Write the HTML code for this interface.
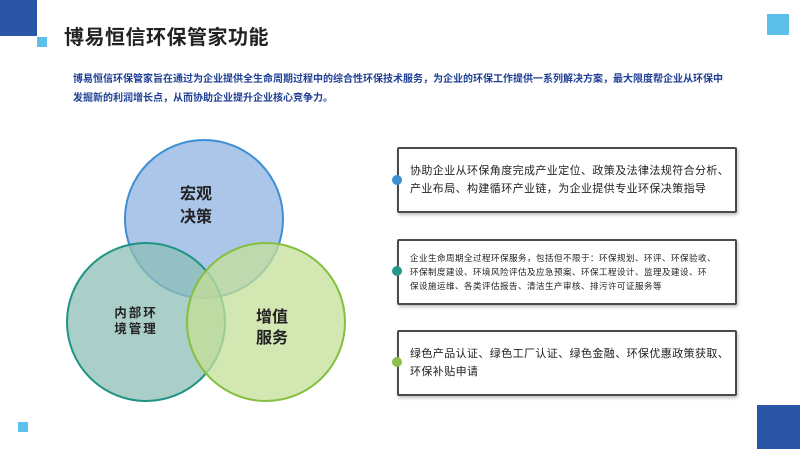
<!DOCTYPE html>
<html><head><meta charset="utf-8"><style>
body{margin:0;width:800px;height:449px;background:#fff;position:relative;overflow:hidden;font-family:"Liberation Sans","Noto Sans CJK SC",sans-serif}
.a{position:absolute}
.box{position:absolute;left:397px;width:340px;border:2px solid #4a4a4a;border-radius:2px;background:#fff;box-shadow:1px 2px 3px rgba(0,0,0,.25);display:flex;align-items:center;box-sizing:border-box;padding-left:11px;color:#222;white-space:nowrap;letter-spacing:0.3px}
.dot{position:absolute;left:392px;width:10px;height:10px;border-radius:50%}
</style></head><body>
<div class="a" style="left:0;top:0;width:37px;height:36px;background:#2b56a8"></div>
<div class="a" style="left:37px;top:37px;width:10px;height:10px;background:#5cc0ea"></div>
<div class="a" style="left:767px;top:14px;width:22px;height:21px;background:#5cc0ea"></div>
<div class="a" style="left:18px;top:422px;width:10px;height:10px;background:#5cc0ea"></div>
<div class="a" style="left:757px;top:405px;width:43px;height:44px;background:#2b56a8"></div>
<div class="a" style="left:64px;top:21px;font-size:20px;font-weight:bold;color:#222;letter-spacing:0.5px">博易恒信环保管家功能</div>
<div class="a" style="left:73px;top:70px;white-space:nowrap;font-size:10px;font-weight:bold;color:#1f3f95;line-height:19px">博易恒信环保管家旨在通过为企业提供全生命周期过程中的综合性环保技术服务，为企业的环保工作提供一系列解决方案，最大限度帮企业从环保中<br>发掘新的利润增长点，从而协助企业提升企业核心竞争力。</div>
<svg class="a" style="left:0;top:0" width="400" height="449">
<circle cx="204" cy="219" r="79" fill="#a3c0e8" fill-opacity=".9" stroke="#3d8fd4" stroke-width="2"/>
<circle cx="146" cy="322" r="79" fill="#8dbdb5" fill-opacity=".75" stroke="#1f9484" stroke-width="2"/>
<circle cx="266" cy="322" r="79" fill="#c4df98" fill-opacity=".75" stroke="#84bf3e" stroke-width="2"/>
<g font-weight="bold" fill="#222" text-anchor="middle">
<text x="196" y="199" font-size="16">宏观</text><text x="196" y="222" font-size="16">决策</text>
<text x="136" y="317" font-size="12.5" letter-spacing="2">内部环</text><text x="136" y="333" font-size="12.5" letter-spacing="2">境管理</text>
<text x="272" y="322" font-size="16">增值</text><text x="272" y="343" font-size="16">服务</text>
</g></svg>
<div class="box" style="top:147px;height:66px;font-size:11px;line-height:18px;letter-spacing:0.4px">协助企业从环保角度完成产业定位、政策及法律法规符合分析、<br>产业布局、构建循环产业链，为企业提供专业环保决策指导</div>
<div class="box" style="top:239px;height:66px;font-size:8.5px;line-height:14px;letter-spacing:0.5px">企业生命周期全过程环保服务，包括但不限于：环保规划、环评、环保验收、<br>环保制度建设、环境风险评估及应急预案、环保工程设计、监理及建设、环<br>保设施运维、各类评估报告、清洁生产审核、排污许可证服务等</div>
<div class="box" style="top:330px;height:66px;font-size:11px;line-height:18px;letter-spacing:0.4px">绿色产品认证、绿色工厂认证、绿色金融、环保优惠政策获取、<br>环保补贴申请</div>
<div class="dot" style="top:175px;background:#3d8fd4"></div>
<div class="dot" style="top:266px;background:#23998a"></div>
<div class="dot" style="top:357px;background:#8cc04a"></div>
</body></html>
